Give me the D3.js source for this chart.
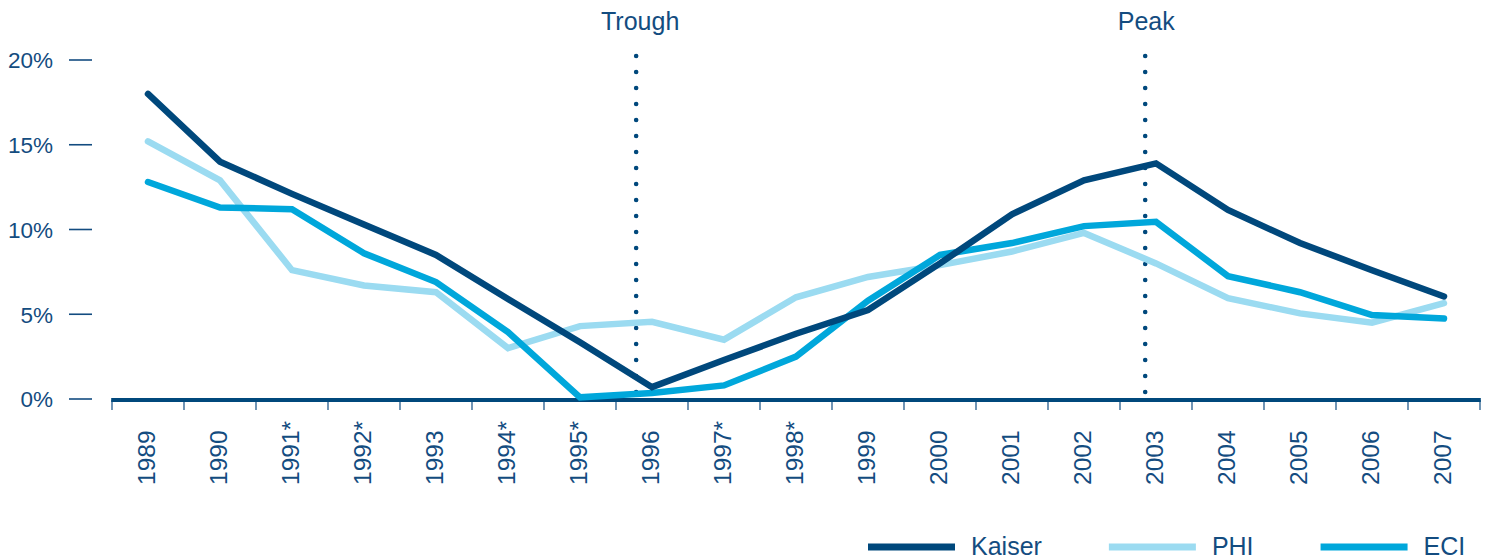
<!DOCTYPE html>
<html>
<head>
<meta charset="utf-8">
<script src="https://cdn.jsdelivr.net/npm/d3@7"></script>
<style>
  html, body { margin: 0; padding: 0; background: #ffffff; }
  svg { display: block; font-family: "Liberation Sans", Arial, Helvetica, sans-serif; }
</style>
</head>
<body>
<svg id="chart" width="1489" height="560"></svg>
<script>
// ---- data ----
const years = ["1989","1990","1991*","1992*","1993","1994*","1995*","1996","1997*","1998*","1999","2000","2001","2002","2003","2004","2005","2006","2007"];
const kaiser = [18.0,14.0,12.1,10.3,8.5,5.9,3.35,0.7,2.3,3.85,5.25,8.0,10.9,12.9,13.9,11.15,9.2,7.6,6.05];
const phi    = [15.2,12.9,7.6,6.7,6.3,3.0,4.3,4.55,3.5,6.0,7.2,7.9,8.7,9.8,8.0,5.95,5.05,4.5,5.65];
const eci    = [12.8,11.3,11.2,8.6,6.9,3.95,0.1,0.35,0.8,2.5,5.8,8.5,9.2,10.2,10.45,7.25,6.3,4.95,4.75];
const yTicks = [0,5,10,15,20];
const yTickLabels = ["0%","5%","10%","15%","20%"];
const seriesNames = ["Kaiser","PHI","ECI"];
const events = [{label:"Trough", year:"1996", frac:0.28, dx:4},{label:"Peak", year:"2003", frac:0.35, dx:1}];

// ---- styles ----
const textColor = "#134c80";
const colors = {Kaiser:"#00487c", PHI:"#9bdbf1", ECI:"#00a7db"};

const svg = d3.select("#chart");
const x = d3.scaleBand().domain(years).range([112,1480]).paddingInner(0).paddingOuter(0);
const y = d3.scaleLinear().domain([0,20]).range([399,60]);
const cx = d => x(d) + x.bandwidth()/2;

// event dotted lines (beneath data lines)
const ev = svg.append("g");
events.forEach(e => {
  const ex = x(e.year) + x.bandwidth()*e.frac;
  ev.append("line")
    .attr("x1", ex).attr("x2", ex)
    .attr("y1", 392).attr("y2", 40)
    .attr("stroke", colors.Kaiser).attr("stroke-width", 4.6)
    .attr("stroke-linecap","round").attr("stroke-dasharray","0 16");
  ev.append("text")
    .attr("x", ex + e.dx).attr("y", 30)
    .attr("text-anchor","middle")
    .attr("fill", textColor).attr("font-size", 25)
    .text(e.label);
});

// y axis ticks & labels
const ya = svg.append("g");
ya.selectAll("line").data(yTicks).join("line")
  .attr("x1", 69).attr("x2", 92)
  .attr("y1", d => y(d)).attr("y2", d => y(d))
  .attr("stroke", textColor).attr("stroke-width", 1.6);
ya.selectAll("text").data(yTicks).join("text")
  .attr("x", 53).attr("y", d => y(d)).attr("dy", "0.37em")
  .attr("text-anchor","end")
  .attr("fill", textColor).attr("font-size", 22.5)
  .text((d,i) => yTickLabels[i]);

// x axis
const xa = svg.append("g");
const bounds = years.map(d => x(d)).concat([x.range()[1]]);
xa.selectAll("line.tick").data(bounds).join("line").attr("class","tick")
  .attr("x1", d => d).attr("x2", d => d)
  .attr("y1", 400).attr("y2", 410)
  .attr("stroke", "#4d7aa3").attr("stroke-width", 1.6);
xa.append("line")
  .attr("x1", x.range()[0] - 0.8).attr("x2", x.range()[1] + 0.8)
  .attr("y1", y(0) + 1).attr("y2", y(0) + 1)
  .attr("stroke", colors.Kaiser).attr("stroke-width", 4);
xa.selectAll("text").data(years).join("text")
  .attr("transform", d => `translate(${cx(d) + 7},485) rotate(-90)`)
  .attr("text-anchor","start")
  .attr("fill", textColor).attr("font-size", 24.5)
  .text(d => d);

// lines
const line = d3.line().x((d,i) => cx(years[i])).y(d => y(d));
const drawOrder = [["PHI", phi], ["ECI", eci], ["Kaiser", kaiser]];
svg.append("g").selectAll("path").data(drawOrder).join("path")
  .attr("d", d => line(d[1]))
  .attr("fill","none")
  .attr("stroke", d => colors[d[0]])
  .attr("stroke-width", 6.5)
  .attr("stroke-linejoin","miter")
  .attr("stroke-linecap","round");

// legend
const lg = svg.append("g");
let lx = 868;
seriesNames.forEach(name => {
  lg.append("line")
    .attr("x1", lx).attr("x2", lx + 87)
    .attr("y1", 547).attr("y2", 547)
    .attr("stroke", colors[name]).attr("stroke-width", 7);
  const t = lg.append("text")
    .attr("x", lx + 103).attr("y", 555)
    .attr("fill", textColor).attr("font-size", 25)
    .text(name);
  const w = t.node().getComputedTextLength();
  lx = lx + 103 + w + 67;
});
</script>
</body>
</html>
